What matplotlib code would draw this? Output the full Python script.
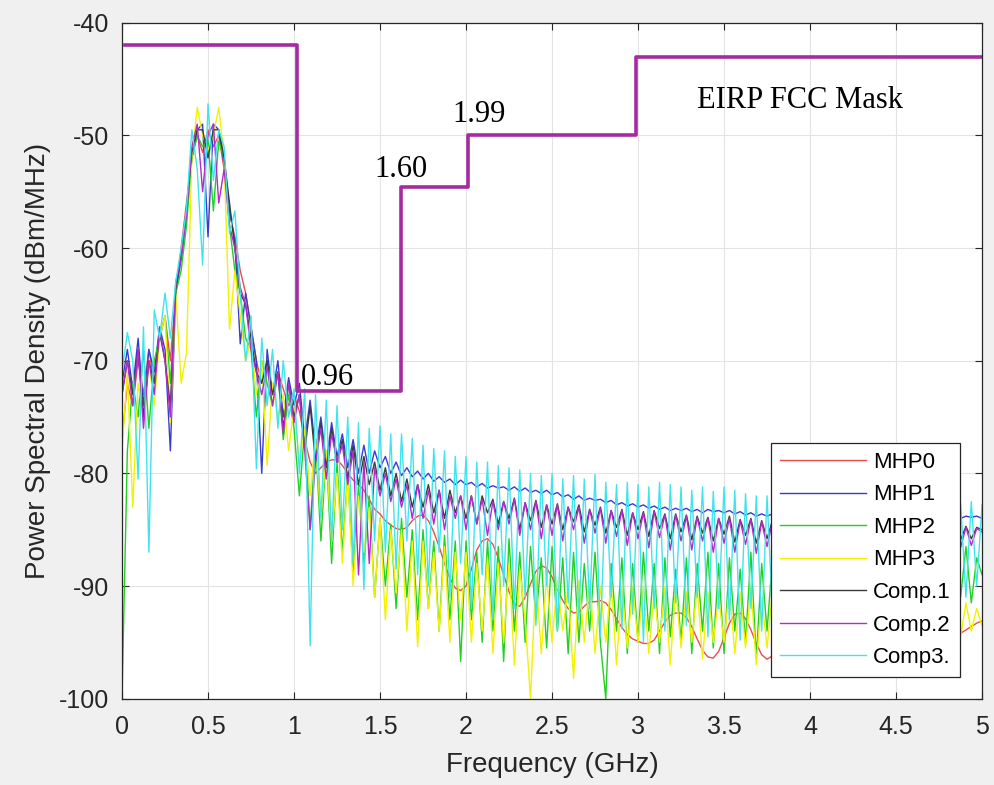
import numpy as np
import matplotlib
matplotlib.use('Agg')
import matplotlib.pyplot as plt
from matplotlib.ticker import FuncFormatter

plt.rcParams['font.family'] = ['Liberation Sans', 'DejaVu Sans']
plt.rcParams['axes.unicode_minus'] = False

# sample grid of the PSD traces (GHz), 161 points from 0 to 5
FREQ_GHZ = np.linspace(0.0, 5.0, 161)

# PSD values (dBm/MHz), one row = 0.25 GHz
MHP0 = [
    -77, -72, -74, -70, -73, -69, -72, -68,                      # 0.00
    -66, -70, -64, -60, -56, -52, -50, -51.5,                    # 0.25
    -49.5, -51, -50, -53, -57, -59, -62, -64,                    # 0.50
    -67, -70, -72, -70, -73, -71, -72.5, -74,                    # 0.75
    -73, -74.5, -77, -79, -80, -79.5, -79, -78.8,                # 1.00
    -78.8, -79.3, -80, -80.6, -81, -81.5, -82.3, -83.2,          # 1.25
    -83.6, -84.2, -84.6, -84.9, -85, -84.8, -84.2, -83.8,        # 1.50
    -83.7, -84.2, -85.2, -86.5, -88, -89.3, -90.2, -90.4,        # 1.75
    -90, -88.5, -86.8, -86, -85.8, -86.3, -87.5, -89,            # 2.00
    -90.5, -91.6, -91.8, -91, -89.8, -88.7, -88.2, -88.4,        # 2.25
    -89.2, -90.3, -91.3, -92, -92.4, -92.3, -91.8, -91.4,        # 2.50
    -91.4, -91.3, -91.5, -92.1, -92.9, -93.7, -94.3, -94.7,      # 2.75
    -94.9, -95.1, -95.1, -94.8, -94, -93.2, -92.6, -92.4,        # 3.00
    -92.4, -92.8, -93.6, -94.7, -95.7, -96.3, -96.4, -95.8,      # 3.25
    -94.6, -93.3, -92.5, -92.4, -92.9, -93.9, -95.1, -96.1,      # 3.50
    -96.5, -96.2, -95.2, -94, -93.2, -93, -93.4, -94.4,          # 3.75
    -95.6, -96.6, -97, -96.6, -95.5, -94.3, -93.6, -93.5,        # 4.00
    -93.9, -94.8, -96, -96.9, -97.1, -96.6, -95.5, -94.4,        # 4.25
    -93.7, -93.6, -94.1, -95.1, -96.3, -97.2, -97.4, -96.9,      # 4.50
    -96.2, -95.5, -94.9, -94.5, -94.2, -93.9, -93.6, -93.3,      # 4.75
    -93.1,
]

MHP1 = [
    -72, -69, -72.5, -68, -74, -69, -71, -67,
    -69, -78, -64, -61, -57, -52, -49.5, -49,
    -59, -49, -49.5, -52.5, -56.5, -59.5, -68.5, -64,
    -67, -70, -80, -69, -73, -70, -75, -71.5,
    -74, -72, -77, -73.5, -78, -75, -79, -75.5,
    -78.5, -76.5, -79.5, -77, -80, -77.5, -80, -78,
    -79.5, -78.5, -80, -79, -80.2, -79.5, -80.3, -79.8,
    -80.5, -80, -80.7, -80.3, -80.8, -80.5, -81, -80.6,
    -81, -80.8, -81.2, -80.9, -81.3, -81.1, -81.3, -81.2,
    -81.5, -81.2, -81.6, -81.3, -81.7, -81.5, -81.8, -81.5,
    -81.9, -81.7, -82.1, -81.9, -82.3, -82.0, -82.4, -82.2,
    -82.4, -82.3, -82.6, -82.4, -82.8, -82.6, -82.9, -82.7,
    -83.0, -82.8, -83.1, -82.9, -83.2, -83.0, -83.3, -83.1,
    -83.3, -83.1, -83.4, -83.2, -83.5, -83.2, -83.4, -83.3,
    -83.5, -83.3, -83.6, -83.4, -83.7, -83.5, -83.8, -83.6,
    -83.8, -83.6, -83.9, -83.7, -84.0, -83.8, -84.0, -83.8,
    -84.0, -83.8, -84.1, -83.9, -84.1, -83.9, -84.2, -84.0,
    -84.1, -83.9, -84.2, -84.0, -84.2, -84.0, -84.1, -83.9,
    -84.1, -83.9, -84.2, -84.0, -84.1, -83.9, -84.0, -83.8,
    -84.0, -83.8, -84.1, -83.9, -84.0, -83.8, -83.9, -83.8,
    -84.0,
]

MHP2 = [
    -100, -78, -72, -75, -69, -76, -70, -68,
    -66, -72, -64, -62, -58, -52, -50, -51,
    -50.4, -56.7, -50.5, -52, -58, -62, -64, -68,
    -69, -75, -70, -72, -74, -71, -77, -73,
    -76, -82, -76, -85, -77, -86, -78, -88,
    -79, -87, -80, -89, -81, -88, -82, -91,
    -84, -90, -84.5, -92, -84, -91, -85, -93,
    -85, -92, -86, -94, -85.5, -93, -86, -96.7,
    -86, -93, -87, -95, -86, -94, -86.5, -96.7,
    -85.8, -94, -87, -95, -86.5, -93, -87.5, -95.5,
    -86.5, -94, -87.5, -96, -87, -95, -88, -94,
    -87, -95, -100, -88, -94, -87.5, -96, -88,
    -95, -87, -94, -88, -96, -87.5, -94.5, -88.5,
    -95, -87.5, -96, -88, -94, -87, -95.5, -88,
    -96, -87.5, -94, -88.5, -95, -87, -96.5, -88,
    -94, -87.5, -95, -88, -96, -88, -94, -88.5,
    -95, -88, -96, -88, -94.5, -88, -95.5, -88.5,
    -94, -88, -95, -88.5, -96, -88, -94, -88,
    -95, -88, -94.5, -88.5, -96, -88, -94, -87.5,
    -95, -88, -94, -87.5, -91, -86.5, -91.5, -87.5,
    -89,
]

MHP3 = [
    -78, -71, -83, -72, -75, -70, -74, -68,
    -66, -75.5, -64, -72, -69.3, -52, -47.5, -50,
    -51.3, -50, -47.5, -52, -67.2, -62, -66, -70,
    -68, -73, -70, -79.3, -72, -75, -73, -78,
    -74, -79, -76, -82, -77, -84, -78, -86,
    -80, -88, -80, -90, -82, -87, -83, -91,
    -84, -93, -85, -90.6, -85, -94, -86, -95.4,
    -86, -92, -87, -94, -86.5, -95, -87, -93,
    -87, -95, -88, -94, -87.5, -96, -88, -95,
    -88, -97, -88.5, -93, -100, -89, -96, -89,
    -95, -89.5, -94, -90, -98.2, -89.5, -95, -89.5,
    -96, -90, -95, -89.5, -97, -90, -95.5, -90,
    -95, -90, -96, -90.5, -95, -90, -97, -90,
    -95.5, -90.5, -95, -90, -96.5, -90.5, -95, -91,
    -95, -90, -96, -90.5, -95.5, -90, -97, -91,
    -95.5, -90.5, -95, -91, -96, -90.5, -95.5, -91,
    -95, -91, -96, -90.5, -95.5, -91, -96, -90.5,
    -95.5, -91, -95, -91, -96, -90.5, -95.5, -91,
    -95, -91, -96, -90.5, -95.5, -91, -95.5, -90.5,
    -95, -91, -94, -90.5, -94.5, -91.5, -94, -92,
    -93.5,
]

COMP1 = [
    -73, -70, -73, -69, -75, -70, -72, -67.5,
    -70, -74, -63.5, -60.5, -56.5, -51.5, -49.5, -49.5,
    -52, -49.5, -49.5, -52, -56, -60, -64, -65,
    -68, -71, -72, -70, -73, -71, -76, -72,
    -75, -73, -78, -74, -79, -75.5, -79.5, -76,
    -79, -77, -80.5, -77.5, -81, -78.5, -81, -79,
    -81.5, -79.5, -82, -80, -82.5, -80.5, -83, -81,
    -83, -81, -83.5, -81.5, -84, -81.5, -83.5, -82,
    -84, -82, -84.5, -82, -83.5, -82.3, -84.5, -82.5,
    -84, -82.2, -85, -82.6, -84.2, -82.4, -84.8, -82.8,
    -84.5, -82.7, -85, -83, -84.3, -82.8, -85.2, -83.2,
    -84.6, -83, -85.3, -83.3, -84.8, -83.2, -85.5, -83.5,
    -85, -83.4, -85.6, -83.3, -84.9, -83.6, -85.8, -83.6,
    -85.2, -83.7, -85.9, -83.8, -85.3, -83.9, -86, -84,
    -85.4, -83.8, -86.1, -84.1, -85.5, -84, -86.2, -84.2,
    -85.8, -84.2, -86.3, -84.3, -85.6, -84.2, -86.3, -84.4,
    -85.8, -84.3, -86.4, -84.4, -85.8, -84.4, -86.4, -84.5,
    -85.9, -84.5, -86.5, -84.6, -85.9, -84.5, -86.5, -84.6,
    -86, -84.6, -86.5, -84.7, -86, -84.6, -86.6, -84.7,
    -86, -84.8, -86.4, -84.8, -85.9, -84.7, -85.8, -84.8,
    -85,
]

COMP2 = [
    -73, -70, -74, -69, -76, -70, -73, -67,
    -70, -75, -63, -61, -57, -51, -49, -55,
    -50, -49, -56, -53, -58, -60, -63.5, -65,
    -69, -71, -73, -70.5, -74, -71, -76.5, -72,
    -75.5, -73, -78, -85, -79, -76, -80.5, -76.5,
    -79, -77.5, -81, -78, -89, -79, -88, -79.5,
    -82, -80, -82.5, -80.5, -83, -81, -84, -81,
    -84, -81.5, -84.5, -81.5, -85, -82, -84, -82,
    -85, -82, -84.5, -82.3, -85.5, -82.5, -85, -82.5,
    -84.5, -82.3, -85.5, -82.6, -85, -82.5, -85.8, -82.8,
    -85.5, -82.8, -86, -83, -85, -83, -86.2, -83.2,
    -85.3, -83.1, -86.2, -83.3, -85.6, -83.3, -86.4, -83.5,
    -85.8, -83.5, -86.6, -83.4, -85.7, -83.7, -86.8, -83.7,
    -86, -83.8, -86.8, -83.9, -86, -84, -87, -84,
    -86.2, -84, -87, -84.2, -86.3, -84.1, -87.1, -84.3,
    -86.5, -84.3, -87.2, -84.4, -86.4, -84.3, -87.2, -84.5,
    -86.6, -84.4, -87.3, -84.5, -86.6, -84.5, -87.3, -84.6,
    -86.7, -84.6, -87.4, -84.7, -86.7, -84.6, -87.4, -84.7,
    -86.8, -84.7, -87.4, -84.8, -86.8, -84.7, -87.4, -84.8,
    -86.8, -84.9, -87.2, -84.9, -86.6, -84.8, -86.4, -84.9,
    -85.2,
]

COMP3 = [
    -71, -67.5, -70, -80.5, -67, -87, -65.5, -68,
    -64, -68, -63, -60, -56.5, -49.5, -53, -61.5,
    -47.2, -54, -49.5, -51, -58.7, -56.7, -64, -70,
    -66, -79.6, -68, -74, -69, -76, -70, -75,
    -72.5, -80, -72.5, -95.3, -73, -84, -73.5, -86,
    -74, -85, -75, -88, -75.5, -90.3, -76, -86,
    -75.8, -87, -76.5, -88.5, -76.5, -86, -76.9, -89,
    -77.5, -90, -77.8, -87, -78, -91, -78.5, -88,
    -78.5, -92, -79, -89, -79, -93, -79.3, -90,
    -79.5, -92, -79.7, -91, -80, -93.5, -80.2, -90,
    -80, -94, -80.5, -91.5, -80.2, -93, -80.5, -92,
    -80.1, -94.5, -80.8, -91, -81, -93.8, -80.8, -92.5,
    -81, -95, -81.2, -92, -80.8, -94, -81, -91.5,
    -81.2, -93.5, -81.5, -91, -81.2, -94.5, -81.6, -92,
    -81.2, -93, -81.5, -94.8, -81.8, -92, -82, -94,
    -82, -92.5, -82.2, -94, -82.3, -92, -82.4, -93,
    -82.3, -93.5, -82.5, -92, -82.4, -94, -82.6, -92.5,
    -82.5, -93.2, -82.7, -92, -82.6, -93.8, -82.8, -92.4,
    -82.6, -93, -82.8, -92.2, -82.7, -94, -82.9, -91.8,
    -82.8, -92.6, -82.9, -93, -82.6, -91, -82.5, -90,
    -82.8,
]

SERIES = [
    ('MHP0', MHP0, '#ee4b4b'),
    ('MHP1', MHP1, '#3a3ad0'),
    ('MHP2', MHP2, '#22d022'),
    ('MHP3', MHP3, '#f2f200'),
    ('Comp.1', COMP1, '#3c3c3c'),
    ('Comp.2', COMP2, '#b52ac8'),
    ('Comp3.', COMP3, '#3fe4ee'),
]

# FCC mask steps (GHz, dBm/MHz)
MASK_FREQ = [0.02, 1.02, 1.62, 2.01, 2.99, 5.0]
MASK_DB = [-42.0, -72.7, -54.6, -50.0, -43.0, -43.0]
MASK_NOTES = [(1.04, -72.2, '0.96'), (1.47, -53.7, '1.60'),
              (1.92, -48.8, '1.99'), (3.34, -47.6, 'EIRP FCC Mask')]

fig = plt.figure(figsize=(9.95, 7.85), dpi=100, facecolor='#f0f0f0')
ax = fig.add_axes([0.1226, 0.110, 0.8644, 0.861])
ax.set_facecolor('white')

for name, vals, color in SERIES:
    ax.plot(FREQ_GHZ, vals, color=color, lw=1.0, label=name)

ax.plot(MASK_FREQ, MASK_DB, drawstyle='steps-post', color='#a62ba0', lw=2.6)
for x, y, txt in MASK_NOTES:
    ax.text(x, y, txt, fontsize=22, family=['Liberation Serif', 'DejaVu Serif'],
            color='black', va='baseline', ha='left')

ax.set_xlim(0, 5)
ax.set_ylim(-100, -40)
ax.set_xticks(np.arange(0, 5.01, 0.5))
ax.set_yticks(np.arange(-100, -39, 10))
ax.xaxis.set_major_formatter(FuncFormatter(lambda v, p: f'{v:g}'))
ax.grid(True, color='#e3e3e3', lw=0.8)
ax.set_axisbelow(True)
ax.tick_params(direction='in', top=True, right=True, length=5, width=0.8,
               labelsize=18, colors='#262626')
ax.tick_params(axis='x', pad=12)
ax.tick_params(axis='y', pad=9)
for sp in ax.spines.values():
    sp.set_color('#262626')
    sp.set_linewidth(0.9)

ax.set_xlabel('Frequency (GHz)', fontsize=20, color='#262626', labelpad=9)
ax.set_ylabel('Power Spectral Density (dBm/MHz)', fontsize=20, color='#262626', labelpad=6)

leg = ax.legend(loc='lower right', bbox_to_anchor=(0.974, 0.032), fontsize=16,
                frameon=True, fancybox=False, framealpha=1, edgecolor='#262626',
                handlelength=3.9, handletextpad=0.3, labelspacing=0.52, borderpad=0.4,
                borderaxespad=0)
leg.get_frame().set_linewidth(0.9)

fig.savefig('out.png', dpi=100, facecolor=fig.get_facecolor())
